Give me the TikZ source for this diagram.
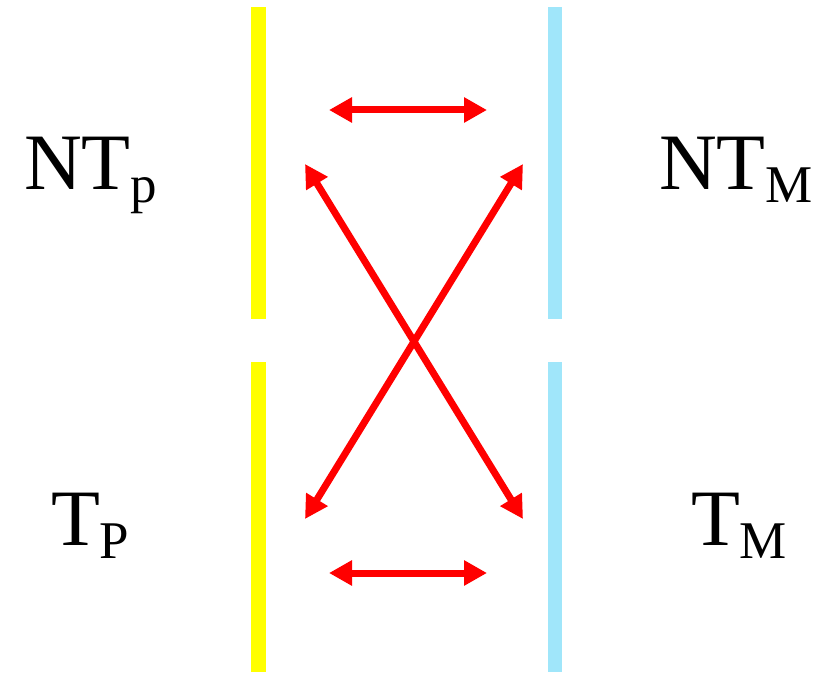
\documentclass[tikz,border=0pt]{standalone}
\usepackage{fontspec}
\setmainfont{Liberation Serif}
\usetikzlibrary{arrows.meta}
\definecolor{barblue}{HTML}{A0E6FA}
\definecolor{baryellow}{HTML}{FFFF00}
\definecolor{arrred}{HTML}{FF0000}
\tikzset{
  link/.style={draw=arrred, line width=7pt, {Triangle[length=23pt,width=24pt]}-{Triangle[length=23pt,width=24pt]}},
  lbl/.style={anchor=base west, inner sep=0pt, outer sep=0pt, font=\fontsize{80}{80}\selectfont},
}
\newcommand{\subtxt}[1]{\raisebox{-13pt}{\fontsize{53}{53}\selectfont #1}}
\begin{document}
\begin{tikzpicture}[x=1pt,y=-1pt]
\useasboundingbox[fill=white] (0,0) rectangle (839,674);
% bars
\fill[baryellow] (251,7) rectangle (266,319);
\fill[baryellow] (251,362) rectangle (266,672);
\fill[barblue] (548,7) rectangle (562,319);
\fill[barblue] (548,362) rectangle (562,672);
% coordinates
\coordinate (h1a) at (329,110);
\coordinate (h1b) at (487,110);
\coordinate (h2a) at (329,573);
\coordinate (h2b) at (487,573);
\coordinate (tl) at (305,164);
\coordinate (tr) at (523,164);
\coordinate (bl) at (305,519);
\coordinate (br) at (523,519);
\draw[link] (h1a) -- (h1b);
\draw[link] (h2a) -- (h2b);
\draw[link] (tl) -- (br);
\draw[link] (tr) -- (bl);
% labels
\node[lbl] (ntp) at (24,190) {NT\subtxt{p}};
\node[lbl] (ntm) at (659,190) {NT\subtxt{M}};
\node[lbl] (tp) at (51,545) {T\subtxt{P}};
\node[lbl] (tm) at (691,545) {T\subtxt{M}};
\end{tikzpicture}
\end{document}
